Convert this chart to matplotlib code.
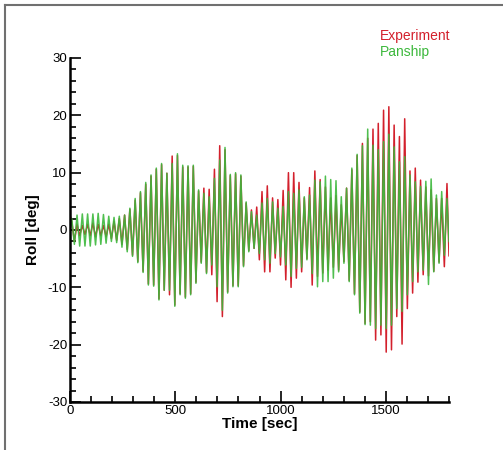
import numpy as np
import matplotlib
matplotlib.use("Agg")
import matplotlib.pyplot as plt
from matplotlib.lines import Line2D
from matplotlib.ticker import MultipleLocator

plt.rcParams['font.family'] = ['Liberation Sans', 'DejaVu Sans']
plt.rcParams['axes.unicode_minus'] = False

# roll oscillation, one peak and one trough per wave (period ~25 s)
period = 25.1
t_first_peak = 8.3

exp_peaks = [1.5, 1.0, 0.8, 1.0, 1.2, 1.0, 0.8, 1.0, 1.5, 2.0, 2.6,
             3.6, 5.2, 6.5, 8.0, 9.4, 10.6, 11.4,
             9.9, 12.9, 13.0, 11.0, 11.0, 11.1, 6.8, 7.3, 7.1, 10.6, 14.7, 14.0, 9.5, 9.8, 9.4, 4.7,
             3.5, 4.0, 6.7, 7.7, 5.6, 5.3, 6.9, 10.0, 10.0, 8.3, 5.6, 7.4, 10.3, 8.8, 7.5, 5.6, 6.0, 4.4,
             7.3, 10.5, 13.0, 15.1, 16.0, 17.6, 18.6, 20.9, 21.5, 18.3, 16.3, 19.4, 10.3, 10.8, 8.7, 7.5,
             7.0, 5.5, 5.5, 8.1]
exp_troughs = [-2.0, -1.0, -0.8, -1.0, -1.2, -1.0, -1.2, -1.5, -1.8, -2.5, -3.4,
               -4.4, -5.5, -7.2, -9.4, -9.6, -12.0,
               -10.5, -11.3, -13.1, -11.1, -11.7, -11.1, -9.1, -5.6, -7.4, -7.8, -12.5, -15.1, -10.8,
               -9.7, -9.7, -6.2, -3.6, -3.2,
               -5.2, -7.3, -7.3, -4.9, -6.1, -8.7, -10.0, -8.4, -7.3, -5.0, -9.6, -8.1, -7.5, -7.0,
               -6.5, -7.0, -5.5,
               -8.8, -11.1, -14.3, -16.3, -16.0, -19.2, -18.3, -21.3, -20.9, -15.1, -19.9, -13.7,
               -11.0, -9.1, -7.8, -8.0, -7.2, -5.6, -6.4]
exp_start, exp_end = 2.6, -4.5

pan_peaks = [2.0, 2.6, 2.8, 2.8, 2.8, 2.9, 2.7, 2.4, 2.2, 2.4, 2.6,
             3.8, 5.5, 6.7, 8.3, 9.6, 10.8, 11.6,
             9.9, 11.6, 13.3, 11.3, 11.2, 11.3, 7.0, 6.4, 5.8, 9.0, 12.2, 14.4, 9.7, 10.0, 9.6, 4.9,
             3.2, 2.6, 4.7, 5.5, 4.9, 3.8, 4.1, 6.7, 6.4, 7.0, 5.8, 6.1, 8.7, 8.4, 9.4, 8.8, 8.6, 5.8,
             7.3, 10.8, 13.2, 14.7, 17.6, 14.8, 14.0, 15.4, 16.7, 14.5, 11.9, 12.8, 9.6, 8.4, 7.6, 8.5,
             8.9, 6.1, 6.7, 5.5]
pan_troughs = [-2.5, -2.8, -2.8, -2.8, -2.6, -2.5, -2.3, -2.0, -2.2, -3.0, -3.8,
               -4.6, -5.7, -7.4, -9.6, -9.8, -12.2,
               -10.5, -10.5, -13.3, -11.3, -11.9, -11.3, -9.3, -5.8, -7.6, -6.1, -9.9, -14.0, -11.0,
               -9.9, -9.9, -6.4, -3.8, -3.2,
               -4.1, -5.2, -5.8, -4.1, -4.7, -6.1, -8.1, -6.7, -6.5, -5.2, -7.6, -9.9, -9.0, -9.0,
               -8.4, -7.3, -5.8,
               -9.0, -11.3, -14.5, -16.5, -16.6, -17.2, -16.6, -17.2, -16.6, -13.7, -14.2, -11.3,
               -9.0, -7.3, -7.0, -9.5, -7.3, -5.8, -4.4]
pan_start, pan_end = 0.0, -2.0

t_end = 1800


def build(peaks, troughs, start, end):
    tp = t_first_peak + period * np.arange(len(peaks))
    tt = tp[:len(troughs)] + period / 2
    t = np.empty(len(peaks) + len(troughs))
    v = np.empty_like(t)
    t[0::2] = tp
    v[0::2] = peaks
    t[1::2] = tt
    v[1::2] = troughs
    t = np.concatenate([[0], t, [t_end]])
    v = np.concatenate([[start], v, [end]])
    return t, v


t_exp, roll_exp = build(exp_peaks, exp_troughs, exp_start, exp_end)
t_pan, roll_pan = build(pan_peaks, pan_troughs, pan_start, pan_end)

red = '#d3202c'
green = '#3cb83c'

fig = plt.figure(figsize=(5.03, 4.5), dpi=100)
ax = fig.add_axes([70 / 503, 48 / 450, 379 / 503, 344 / 450])

ax.plot(t_exp, roll_exp, color=red, lw=1.1)
ax.plot(t_pan, roll_pan, color=green, lw=1.1, alpha=0.9)

ax.set_xlim(0, 1800)
ax.set_ylim(-30, 30)
ax.xaxis.set_major_locator(MultipleLocator(500))
ax.xaxis.set_minor_locator(MultipleLocator(100))
ax.yaxis.set_major_locator(MultipleLocator(10))
ax.yaxis.set_minor_locator(MultipleLocator(2))
ax.tick_params(which='both', direction='in', width=1.2, labelsize=9.5, pad=2)
ax.tick_params(which='major', length=8)
ax.tick_params(which='minor', length=4)
for s in ['top', 'right']:
    ax.spines[s].set_visible(False)
for s in ['left', 'bottom']:
    ax.spines[s].set_linewidth(1.8)

ax.set_xlabel('Time [sec]', fontsize=11, fontweight='bold', labelpad=0)
ax.set_ylabel('Roll [deg]', fontsize=11, fontweight='bold', labelpad=6)

fig.text(380 / 503, 1 - 36 / 450, 'Experiment', color=red, fontsize=10, va='center')
fig.text(380 / 503, 1 - 52 / 450, 'Panship', color=green, fontsize=10, va='center')

# grey frame on the left and top
fig.add_artist(Line2D([5 / 503, 5 / 503], [0, 1 - 5 / 450], color='#707070', lw=1.5))
fig.add_artist(Line2D([5 / 503, 1], [1 - 5 / 450, 1 - 5 / 450], color='#707070', lw=1.5))

fig.savefig('out.png', dpi=100)
